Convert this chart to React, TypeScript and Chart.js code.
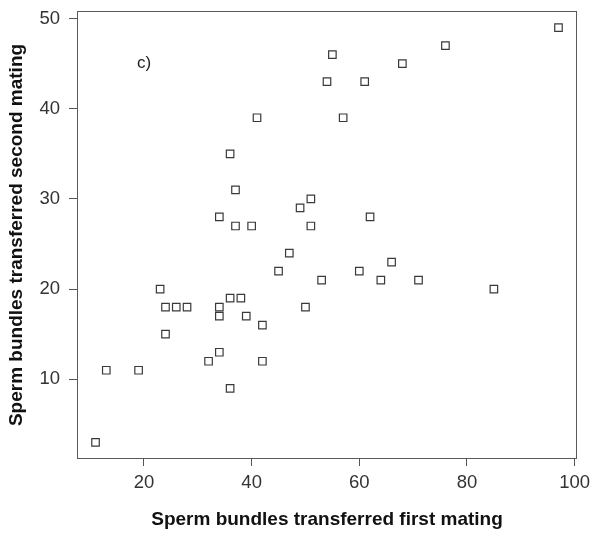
import { useEffect, useRef } from 'react';
import { Chart, registerables } from 'chart.js';

Chart.register(...registerables);

// Sperm bundles transferred per male: first mating (x) vs second mating (y)
const firstMating = [
  97, 76, 68, 55, 54, 61, 57, 41, 36, 37, 34, 37, 40, 49, 51, 51, 62, 47, 45, 53, 60, 66,
  64, 71, 85, 50, 23, 24, 26, 28, 34, 34, 36, 38, 39, 24, 42, 32, 34, 42, 36, 13, 19, 11,
];
const secondMating = [
  49, 47, 45, 46, 43, 43, 39, 39, 35, 31, 28, 27, 27, 29, 30, 27, 28, 24, 22, 21, 22, 23,
  21, 21, 20, 18, 20, 18, 18, 18, 18, 17, 19, 19, 17, 15, 16, 12, 13, 12, 9, 11, 11, 3,
];

const xTickValues = [20, 40, 60, 80, 100];
const yTickValues = [10, 20, 30, 40, 50];

const xTitle = 'Sperm bundles transferred first mating';
const yTitle = 'Sperm bundles transferred second mating';
const panelLabel = 'c)';
const panelLabelX = 20;
const panelLabelY = 45;

const FONT = '"Liberation Sans", Arial, Helvetica, sans-serif';

// Axis limits extended 4% beyond the data range on each side
function paddedRange(values: number[]): [number, number] {
  const lo = Math.min(...values);
  const hi = Math.max(...values);
  const pad = (hi - lo) * 0.04;
  return [lo - pad, hi + pad];
}

const framePlugin = {
  id: 'frameAndLabel',
  afterDatasetsDraw(chart: any) {
    const { ctx, chartArea, scales } = chart;
    const l = Math.round(chartArea.left) + 0.5;
    const t = Math.round(chartArea.top) + 0.5;
    const r = Math.round(chartArea.right) - 0.5;
    const b = Math.round(chartArea.bottom) - 0.5;
    ctx.save();
    ctx.strokeStyle = '#5a5a5a';
    ctx.lineWidth = 1;
    ctx.strokeRect(l, t, r - l, b - t);

    ctx.fillStyle = '#222';
    ctx.font = `17px ${FONT}`;
    ctx.textAlign = 'center';
    ctx.textBaseline = 'middle';
    ctx.fillText(
      panelLabel,
      scales.x.getPixelForValue(panelLabelX),
      scales.y.getPixelForValue(panelLabelY)
    );
    ctx.restore();
  },
};

export default function App() {
  const canvasRef = useRef<HTMLCanvasElement>(null);

  useEffect(() => {
    const [xMin, xMax] = paddedRange(firstMating);
    const [yMin, yMax] = paddedRange(secondMating);
    const points = firstMating.map((x, i) => ({ x, y: secondMating[i] }));

    const chart = new Chart(canvasRef.current!, {
      type: 'scatter',
      data: {
        datasets: [
          {
            data: points,
            pointStyle: 'rect',
            pointRadius: 5.3,
            pointHoverRadius: 5.3,
            borderColor: '#3a3a3a',
            borderWidth: 1.2,
            backgroundColor: 'rgba(255,255,255,0)',
          },
        ],
      },
      options: {
        responsive: false,
        animation: false,
        devicePixelRatio: 1,
        layout: { padding: { left: 0, top: 11, right: 15, bottom: 0 } },
        plugins: {
          legend: { display: false },
          tooltip: { enabled: false },
        },
        scales: {
          x: {
            type: 'linear',
            min: xMin,
            max: xMax,
            afterBuildTicks: (s: any) => {
              s.ticks = xTickValues.map((value) => ({ value }));
            },
            afterFit: (s: any) => {
              s.height = 77;
              s.paddingLeft = 0;
              s.paddingRight = 0;
            },
            border: { display: false },
            grid: {
              drawOnChartArea: false,
              drawTicks: true,
              tickLength: 7,
              color: '#555',
            },
            ticks: {
              autoSkip: false,
              maxRotation: 0,
              padding: 6,
              color: '#333',
              font: { family: FONT, size: 18.5 },
            },
            title: {
              display: true,
              text: xTitle,
              color: '#111',
              font: { family: FONT, size: 19, weight: 'bold' },
              padding: { top: 0, bottom: 5 },
            },
          },
          y: {
            type: 'linear',
            min: yMin,
            max: yMax,
            afterBuildTicks: (s: any) => {
              s.ticks = yTickValues.map((value) => ({ value }));
            },
            afterFit: (s: any) => {
              s.width = 77;
              s.paddingTop = 0;
              s.paddingBottom = 0;
            },
            border: { display: false },
            grid: {
              drawOnChartArea: false,
              drawTicks: true,
              tickLength: 8,
              color: '#555',
            },
            ticks: {
              autoSkip: false,
              padding: 9,
              color: '#333',
              font: { family: FONT, size: 18.5 },
            },
            title: {
              display: true,
              text: yTitle,
              color: '#111',
              font: { family: FONT, size: 19, weight: 'bold' },
              padding: { top: 5.5, bottom: 0 },
            },
          },
        },
      },
      plugins: [framePlugin],
    });

    return () => chart.destroy();
  }, []);

  return (
    <div
      style={{
        position: 'absolute',
        left: 0,
        top: 0,
        width: 592,
        height: 536,
        background: '#fff',
      }}
    >
      <canvas ref={canvasRef} width={592} height={536} style={{ display: 'block' }} />
    </div>
  );
}
